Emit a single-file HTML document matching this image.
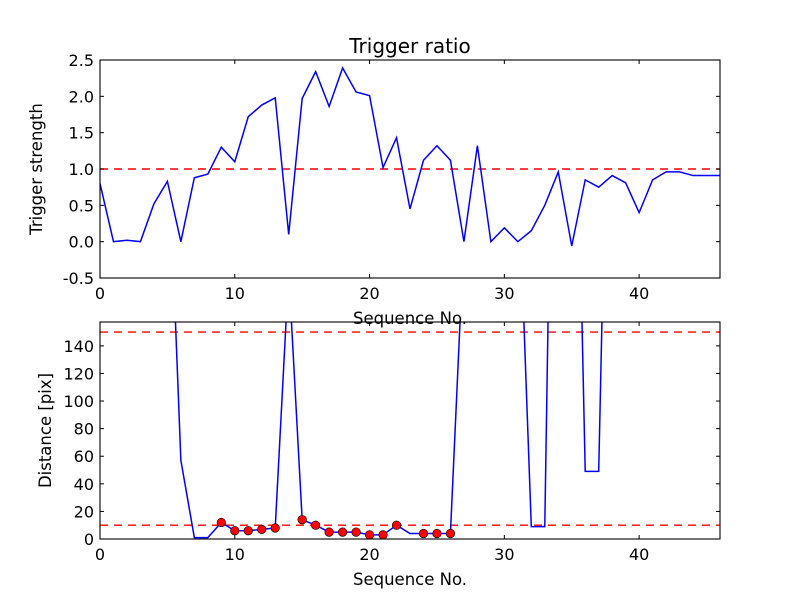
<!DOCTYPE html>
<html><head><meta charset="utf-8"><style>
body{margin:0;background:#fff;width:800px;height:600px;overflow:hidden}
svg text{font-family:"DejaVu Sans","Liberation Sans",sans-serif;fill:#000}
</style></head><body>
<svg id="fig" width="800" height="600" xmlns="http://www.w3.org/2000/svg">
<rect width="800" height="600" fill="#fff"/>
</svg>
<script>
const topValues=[0.8,0.0,0.02,0.0,0.52,0.83,0.0,0.88,0.93,1.3,1.1,1.72,1.88,1.98,0.1,1.97,2.34,1.86,2.39,2.06,2.01,1.02,1.43,0.45,1.12,1.32,1.12,0.0,1.32,0.0,0.19,0.0,0.15,0.5,0.96,-0.06,0.85,0.75,0.91,0.81,0.4,0.85,0.96,0.96,0.91,0.91,0.91];
const topThreshold=1.0;
const topYTicks=[-0.5,0.0,0.5,1.0,1.5,2.0,2.5];
const xTicks=[0,10,20,30,40];
const distValues=[1000,1000,1000,1000,1000,307,57,1,1,12,6,6,7,8,194,14,10,5,5,5,3,3,10,4,4,4,4,219,1000,1000,1000,278,9,9,625,500,49,49,500,1000,1000,1000,1000,1000,1000,1000,1000];
const markerIdx=[9,10,11,12,13,15,16,17,18,19,20,21,22,24,25,26];
const distThresholds=[10,150];
const botYTicks=[0,20,40,60,80,100,120,140];

const NS="http://www.w3.org/2000/svg";
const svg=document.getElementById('fig');
function el(t,a,p){const e=document.createElementNS(NS,t);for(const k in a)e.setAttribute(k,a[k]);(p||svg).appendChild(e);return e;}
function txt(s,a,p){const e=el('text',a,p);e.textContent=s;return e;}

function panel(cfg){
  const L=100,R=720,T=cfg.top,B=cfg.bottom;
  const xs=v=>L+(v-0)/(46-0)*(R-L);
  const ys=v=>B-(v-cfg.ymin)/(cfg.ymax-cfg.ymin)*(B-T);
  const g=el('g',{});
  
  
  const cid='clip'+cfg.name;
  const cp=el('clipPath',{id:cid},g);el('rect',{x:L,y:T,width:R-L,height:B-T},cp);
  cfg.thr.forEach(t=>{const l=el('line',{x1:L,x2:R,y1:ys(t),y2:ys(t),stroke:'#f00','stroke-width':1.4,'stroke-dasharray':'8,6','clip-path':`url(#${cid})`},g);
    
    });
  const pts=cfg.vals.map((v,i)=>xs(i).toFixed(2)+','+ys(v).toFixed(2)).join(' ');
  const pl=el('polyline',{points:pts,fill:'none',stroke:'#00f','stroke-width':1.5,'clip-path':`url(#${cid})`},g);
  
  
  (cfg.markers||[]).forEach(i=>{const c=el('circle',{cx:xs(i),cy:ys(cfg.vals[i]),r:4.3,fill:'#f00',stroke:'#000','stroke-width':0.6},g);
    
    });
  el('rect',{x:L,y:T,width:R-L,height:B-T,fill:'none',stroke:'#000','stroke-width':1.1},g);
  xTicks.forEach(t=>{const x=xs(t);
    el('line',{x1:x,x2:x,y1:B,y2:B-4,stroke:'#000'},g);el('line',{x1:x,x2:x,y1:T,y2:T+4,stroke:'#000'},g);
    const tl=txt(String(t),{x:x,y:B+21,'text-anchor':'middle','font-size':16},g);
    
    });
  cfg.yt.forEach(t=>{const y=ys(t);
    el('line',{x1:L,x2:L+4,y1:y,y2:y,stroke:'#000'},g);el('line',{x1:R,x2:R-4,y1:y,y2:y,stroke:'#000'},g);
    const tl=txt(cfg.fmt(t),{x:L-6,y:y+6,'text-anchor':'end','font-size':16},g);
    
    });
  const xl=txt('Sequence No.',{x:410,y:B+46,'text-anchor':'middle','font-size':16.5},g);
  
  
  const yl=txt(cfg.ylabel,{x:0,y:0,'text-anchor':'middle','font-size':16.5,transform:`translate(${cfg.ylx},${(T+B)/2}) rotate(-90)`},g);
  
  
}
const title=txt('Trigger ratio',{x:410,y:53,'text-anchor':'middle','font-size':20});


panel({name:'trigger-panel',top:60,bottom:278,ymin:-0.5,ymax:2.5,vals:topValues,thr:[topThreshold],yt:topYTicks,fmt:t=>t.toFixed(1),ylabel:'Trigger strength',ylx:42});
panel({name:'distance-panel',top:322,bottom:539,ymin:0,ymax:157.3,vals:distValues,thr:distThresholds,yt:botYTicks,fmt:t=>String(t),ylabel:'Distance [pix]',ylx:51,markers:markerIdx});
</script>
</body></html>
